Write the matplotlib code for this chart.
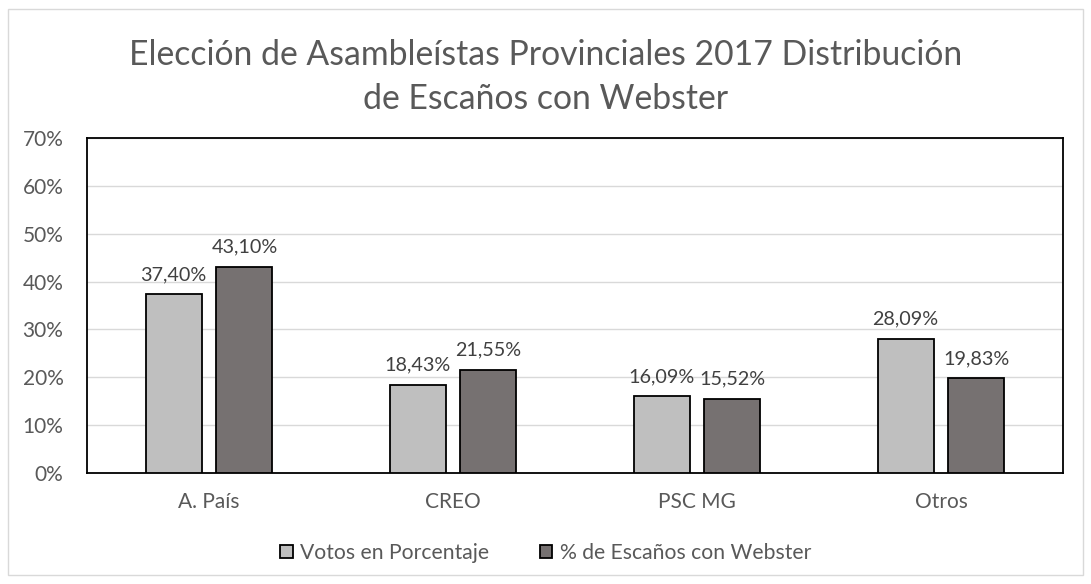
import numpy as np
import matplotlib.pyplot as plt
from matplotlib.patches import Rectangle

categorias = ["A. País", "CREO", "PSC MG", "Otros"]
votos = [37.40, 18.43, 16.09, 28.09]
escanos = [43.10, 21.55, 15.52, 19.83]
series = ["Votos en Porcentaje", "% de Escaños con Webster"]
yticks = [0, 10, 20, 30, 40, 50, 60, 70]

gris_texto = "#595959"
plt.rcParams["font.family"] = ["Lato", "DejaVu Sans"]

fig = plt.figure(figsize=(10.91, 5.84), dpi=100)
fig.patches.append(Rectangle((8 / 1091, 9 / 584), 1075 / 1091, 566 / 584, transform=fig.transFigure,
                             fill=False, edgecolor="#d9d9d9", linewidth=1))
ax = fig.add_axes([87 / 1091, 1 - 473 / 584, (1063 - 87) / 1091, (473 - 138) / 584])

x = np.arange(len(categorias))
w = 0.23
b1 = ax.bar(x - 0.145, votos, w, color="#bfbfbf", edgecolor="black", linewidth=1.3, label=series[0], zorder=3)
b2 = ax.bar(x + 0.145, escanos, w, color="#767171", edgecolor="black", linewidth=1.3, label=series[1], zorder=3)

# etiquetas de datos con coma decimal
for bars, vals in ((b1, votos), (b2, escanos)):
    for r, v in zip(bars, vals):
        ax.annotate(f"{v:.2f}%".replace(".", ","), (r.get_x() + r.get_width() / 2, v),
                    xytext=(0, 8), textcoords="offset points",
                    ha="center", va="bottom", fontsize=14.2, color="#404040")

ax.set_xlim(-0.5, 3.5)
ax.set_ylim(0, 70)
ax.set_yticks(yticks)
ax.set_yticklabels([f"{t}%" for t in yticks])
ax.set_xticks(x)
ax.set_xticklabels(categorias)
ax.tick_params(length=0, labelsize=15, colors=gris_texto)
ax.tick_params(axis="x", pad=14)
ax.tick_params(axis="y", pad=17)
ax.grid(axis="y", color="#d9d9d9", linewidth=1, zorder=0)
for s in ax.spines.values():
    s.set_linewidth(1.3)
    s.set_color("black")

fig.text(0.5, 1 - 55 / 584, "Elección de Asambleístas Provinciales 2017 Distribución",
         ha="center", va="center", fontsize=24.3, color=gris_texto)
fig.text(0.5, 1 - 99 / 584, "de Escaños con Webster",
         ha="center", va="center", fontsize=24.3, color=gris_texto)

fig.legend(handles=[b1, b2], labels=series, loc="center", bbox_to_anchor=(0.5, 1 - 553 / 584),
           ncol=2, frameon=False, fontsize=15.2, labelcolor=gris_texto, handlelength=0.6,
           handleheight=0.6, handletextpad=0.35, columnspacing=2.4)

fig.savefig("out.png", dpi=100)
